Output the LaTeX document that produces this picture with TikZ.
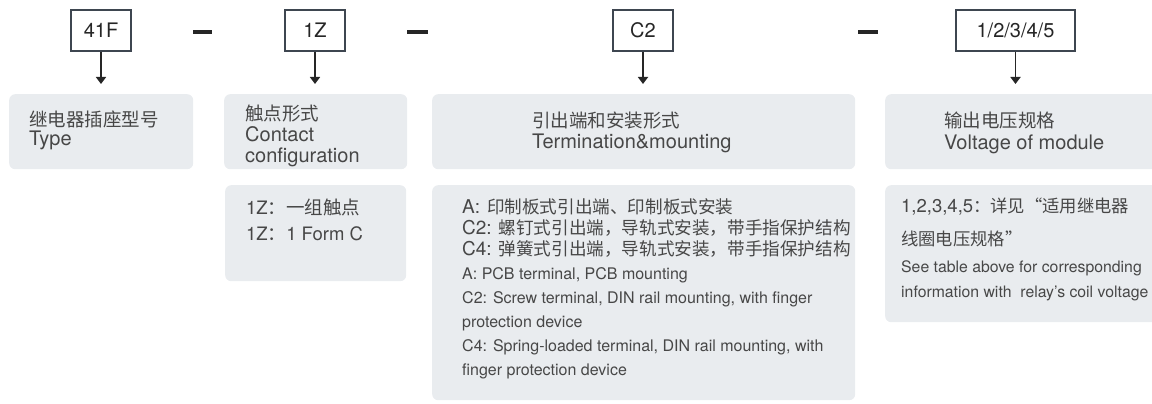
\documentclass[tikz,border=0pt]{standalone}
\usepackage{fontspec}
\setmainfont{TeX Gyre Heros}
\newfontfamily\cjk{Noto Sans CJK SC}
\usetikzlibrary{arrows.meta}

\definecolor{boxgrey}{HTML}{E9ECEF}
\definecolor{txtgrey}{HTML}{474747}
\definecolor{framegrey}{HTML}{3E4650}
\newcommand{\zh}[2][18.5]{{\cjk\fontsize{#1}{20}\selectfont #2}}

\tikzset{
  codebox/.style={draw=framegrey, line width=1.3pt, minimum width=60pt, minimum height=41pt,
    inner sep=0pt, font=\fontsize{20}{24}\selectfont, text=black!85},
  infobox/.style={fill=boxgrey, rounded corners=6pt, anchor=north west, inner sep=0pt},
  infotext/.style={anchor=base west, inner sep=0pt, align=left, text=txtgrey},
  arr/.style={-{Triangle[width=10pt,length=7pt]}, line width=1.8pt, black!85, shorten >=10pt},
  sep/.style={line width=3.5pt, black!85}
}

\begin{document}
\begin{tikzpicture}[x=1pt, y=-1pt]
  \useasboundingbox (0,0) rectangle (1152,404);

  % Codice
  \node[codebox] (c41F) at (101,30.5) {41F};
  \node[codebox] (c1Z) at (315,30.5) {1Z};
  \node[codebox] (cC2) at (643,30.5) {C2};
  \node[codebox, minimum width=119pt] (cvolt) at (1015.5,30.5) {1/2/3/4/5};

  \draw[sep] (193,32) -- (212,32);
  \draw[sep] (407,32) -- (428,32);
  \draw[sep] (858,32) -- (878,32);

  % Riquadri
  \node[infobox, minimum width=184pt, minimum height=75pt] (itype) at (9,94) {};
  \node[infobox, minimum width=183pt, minimum height=75pt] (icontact) at (224,94) {};
  \node[infobox, minimum width=423pt, minimum height=75pt] (iterm) at (432,94) {};
  \node[infobox, minimum width=280pt, minimum height=75pt] (ivolt) at (885,94) {};

  \node[infobox, minimum width=181pt, minimum height=96pt] (dcontact) at (225,185) {};
  \node[infobox, minimum width=423pt, minimum height=215pt] (dterm) at (432,185) {};
  \node[infobox, minimum width=280pt, minimum height=137pt] (dvolt) at (885,185) {};

  \draw[arr] (c41F) -- (c41F |- itype.north);
  \draw[arr] (c1Z) -- (c1Z |- icontact.north);
  \draw[arr] (cC2) -- (cC2 |- iterm.north);
  \draw[arr] (cvolt) -- (cvolt |- ivolt.north);

  % Testi (base = ultima riga)
  \node[infotext, font=\fontsize{20}{20}\selectfont] (ttype) at (29,146) {\zh{继电器插座型号}\\Type};
  \node[infotext, font=\fontsize{20}{21}\selectfont] (tcontact) at (245,162)
    {\zh{触点形式}\\Contact\\configuration};
  \node[infotext, font=\fontsize{20}{21}\selectfont] (tterm) at (532,148)
    {\zh{引出端和安装形式}\\Termination\&mounting};
  \node[infotext, font=\fontsize{20}{22}\selectfont] (tvolt) at (944,149)
    {\zh{输出电压规格}\\Voltage of module};

  \node[infotext, font=\fontsize{18.5}{26}\selectfont] (scontact) at (246,240)
    {1Z\zh{：一组触点}\\1Z\zh{：}1 Form C};

  \node[infotext, font=\fontsize{19}{21}\selectfont] (sterm) at (462,255)
    {A:\hspace{7pt}\zh[17.6]{印制板式引出端、印制板式安装}\\
     C2:\hspace{7pt}\zh[17.6]{螺钉式引出端，导轨式安装，带手指保护结构}\\
     C4:\hspace{7pt}\zh[17.6]{弹簧式引出端，导轨式安装，带手指保护结构}};
  \node[infotext, font=\fontsize{16}{24}\selectfont] (eterm) at (462,375)
    {A: PCB terminal, PCB mounting\\
     C2: Screw terminal, DIN rail mounting, with finger\\
     protection device\\
     C4: Spring-loaded terminal, DIN rail mounting, with\\
     finger protection device};

  \node[infotext, font=\fontsize{18.5}{33}\selectfont] (svolt) at (901,245)
    {1,2,3,4,5\zh[17.3]{：详见“适用继电器}\\\zh[17.3]{线圈电压规格”}};
  \node[infotext, font=\fontsize{15.8}{25}\selectfont] (evolt) at (901,297)
    {See table above for corresponding\\information with\ \ relay's coil voltage};
\end{tikzpicture}
\end{document}
